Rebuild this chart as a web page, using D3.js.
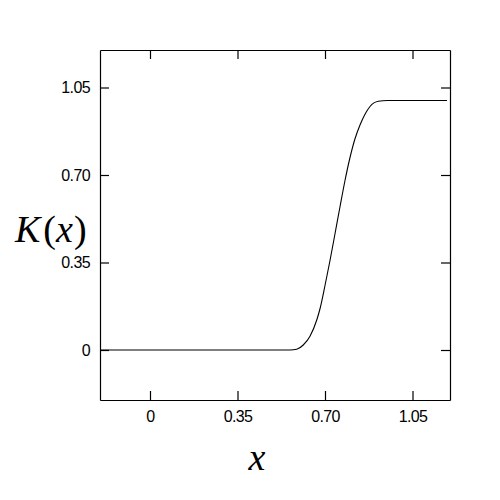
<!DOCTYPE html>
<html>
<head>
<meta charset="utf-8">
<script src="https://cdn.jsdelivr.net/npm/d3@7"></script>
<style>
  body { margin: 0; background: #fff; }
</style>
</head>
<body>
<svg id="chart"></svg>
<script>
// set width and height of graphic
var width = 500,
    height = 500;

// curve values
var xs = [-0.2, 0.2, 0.45, 0.56, 0.587, 0.613, 0.64, 0.667, 0.68, 0.70, 0.72, 0.74, 0.76, 0.78, 0.80, 0.82, 0.84, 0.86, 0.88, 0.913, 0.95, 1.05, 1.188];
var ks = [0, 0, 0, 0, 0.003, 0.02, 0.055, 0.12, 0.165, 0.258, 0.358, 0.465, 0.573, 0.678, 0.77, 0.845, 0.9, 0.943, 0.974, 0.995, 0.998, 0.998, 0.998];

var xTicks = [0, 0.35, 0.70, 1.05];
var yTicks = [0, 0.35, 0.70, 1.05];
var tickLabels = ["0", "0.35", "0.70", "1.05"];

var margin = {left: 100, right: 50, top: 50, bottom: 100};

var x = d3.scaleLinear()
    .domain([-0.2, 1.2])
    .range([margin.left, width - margin.right]);

var y = d3.scaleLinear()
    .domain([-0.2, 1.2])
    .range([height - margin.bottom, margin.top]);

var svg = d3.select("#chart")
    .attr("width", width)
    .attr("height", height);

// axes, ticks pointing inward on all four sides
function fmt(d) { return tickLabels[xTicks.indexOf(d)]; }

svg.append("g")
    .attr("transform", "translate(0," + y(-0.2) + ")")
    .call(d3.axisBottom(x).tickValues(xTicks).tickSizeInner(-9).tickSizeOuter(0).tickPadding(11).tickFormat(fmt));

svg.append("g")
    .attr("transform", "translate(0," + y(1.2) + ")")
    .call(d3.axisTop(x).tickValues(xTicks).tickSizeInner(-9).tickSizeOuter(0).tickFormat(""));

svg.append("g")
    .attr("transform", "translate(" + x(-0.2) + ",0)")
    .call(d3.axisLeft(y).tickValues(yTicks).tickSizeInner(-9).tickSizeOuter(0).tickPadding(10).tickFormat(fmt));

svg.append("g")
    .attr("transform", "translate(" + x(1.2) + ",0)")
    .call(d3.axisRight(y).tickValues(yTicks).tickSizeInner(-9).tickSizeOuter(0).tickFormat(""));

svg.selectAll(".domain").attr("stroke", "#000").attr("stroke-width", 1.2);
svg.selectAll(".tick line").attr("stroke", "#000").attr("stroke-width", 1.2);
svg.selectAll(".tick text")
    .attr("fill", "#000")
    .attr("font-family", "'Liberation Sans', Arial, sans-serif")
    .attr("font-size", 16)
    .attr("letter-spacing", -0.6);

// the curve
var line = d3.line()
    .x(function(d, i) { return x(xs[i]); })
    .y(function(d, i) { return y(ks[i]); })
    .curve(d3.curveMonotoneX);

svg.append("path")
    .datum(xs)
    .attr("fill", "none")
    .attr("stroke", "#000")
    .attr("stroke-width", 1.1)
    .attr("d", line);

// axis labels
var yl = svg.append("text")
    .attr("x", 15)
    .attr("y", 242)
    .attr("font-family", "'Liberation Serif', serif")
    .attr("font-size", 38);
yl.append("tspan").attr("font-style", "italic").text("K");
yl.append("tspan").attr("dx", 3).text("(");
yl.append("tspan").attr("font-style", "italic").text("x");
yl.append("tspan").attr("dx", 1).text(")");

svg.append("text")
    .attr("x", 257)
    .attr("y", 470)
    .attr("text-anchor", "middle")
    .attr("font-family", "'Liberation Serif', serif")
    .attr("font-style", "italic")
    .attr("font-size", 38)
    .text("x");
</script>
</body>
</html>
